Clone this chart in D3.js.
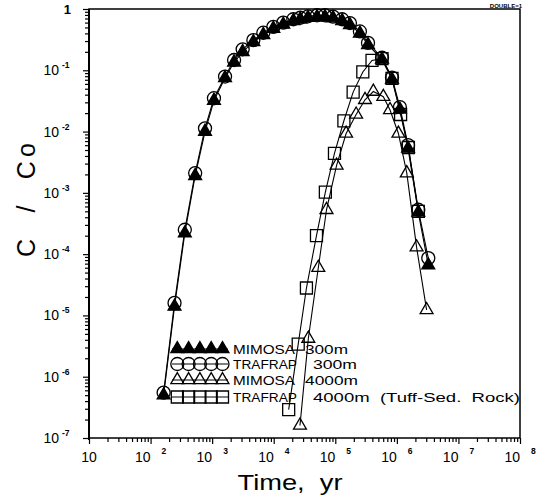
<!DOCTYPE html>
<html><head><meta charset="utf-8">
<script src="https://cdn.jsdelivr.net/npm/d3@7"></script>
<style>body{margin:0;background:#fff}svg{display:block}</style>
</head><body><svg id="c" width="540" height="495"></svg>
<script>
// ---- data ----
const time300 = [163, 245, 360, 530, 766, 1070, 1620, 2270, 3130, 4670, 6780, 9860, 14300, 20800, 27000, 36000, 50500, 68000, 92000, 129000, 173000, 251000, 340000, 574000, 834000, 1120000, 1520000, 2230000, 3240000];
const mimosa300 = [5.0e-7, 1.4e-5, 2.2e-4, 1.9e-3, 1.0e-2, 3.2e-2, 7.5e-2, 0.135, 0.20, 0.29, 0.38, 0.48, 0.56, 0.64, 0.68, 0.72, 0.74, 0.74, 0.71, 0.64, 0.55, 0.40, 0.26, 0.15, 0.071, 0.023, 5.3e-3, 4.8e-4, 6.6e-5];
const trafrap300 = [5.5e-7, 1.6e-5, 2.5e-4, 2.1e-3, 1.13e-2, 3.5e-2, 7.9e-2, 0.147, 0.22, 0.31, 0.41, 0.51, 0.60, 0.68, 0.72, 0.76, 0.79, 0.79, 0.75, 0.68, 0.59, 0.43, 0.28, 0.16, 0.076, 0.025, 6.0e-3, 5.3e-4, 8.6e-5];
const timeMimosa4000 = [26700, 36500, 53000, 72000, 105000, 150000, 218000, 304000, 415000, 603000, 775000, 1060000, 1450000, 2090000, 3040000];
const mimosa4000 = [1.6e-7, 4.2e-6, 6.0e-5, 5.3e-4, 2.8e-3, 9.3e-3, 0.019, 0.033, 0.045, 0.037, 0.0225, 9.3e-3, 2.1e-3, 1.3e-4, 1.23e-5];
const timeTrafrap4000 = [17500, 25000, 34000, 49500, 69000, 97000, 138000, 195000, 280000, 395000, 574000, 834000, 1150000, 1540000, 2230000];
const trafrap4000 = [2.9e-7, 3.4e-6, 2.8e-5, 2.0e-4, 1.03e-3, 4.4e-3, 0.015, 0.044, 0.094, 0.145, 0.155, 0.074, 0.019, 5.5e-3, 5.0e-4];
const xTickExps = [1, 2, 3, 4, 5, 6, 7, 8];
const yTickExps = [0, -1, -2, -3, -4, -5, -6, -7];
const legendNames = ["MIMOSA", "TRAFRAP", "MIMOSA", "TRAFRAP"];
const legendSuffix = ["300m", "300m", "4000m", "4000m  (Tuff-Sed.  Rock)"];

// ---- layout ----
const L = 89, R = 520, T = 9, B = 438;
const svg = d3.select("#c");
const x = d3.scaleLog().domain([10, 1e8]).range([L, R]);
const y = d3.scaleLog().domain([1e-7, 1]).range([B, T]);
const font = "'Liberation Sans', Arial, sans-serif";

// tick values
const majX = xTickExps.map(e => Math.pow(10, e));
const minX = [];
for (let e = 1; e < 8; e++) for (let m = 2; m <= 9; m++) minX.push(m * Math.pow(10, e));
const majY = yTickExps.map(e => Math.pow(10, e));
const minY = [];
for (let e = -7; e < 0; e++) for (let m = 2; m <= 9; m++) minY.push(m * Math.pow(10, e));

function styleAxis(g) {
  g.select(".domain").remove();
  g.selectAll("line").attr("stroke", "#000").attr("stroke-width", 1.2);
}
svg.append("g").attr("transform", `translate(0,${B})`)
  .call(d3.axisBottom(x).tickValues(minX).tickSize(4).tickFormat("")).call(styleAxis);
svg.append("g").attr("transform", `translate(0,${B})`)
  .call(d3.axisBottom(x).tickValues(majX).tickSize(6).tickFormat("")).call(styleAxis);
svg.append("g").attr("transform", `translate(${L},0)`)
  .call(d3.axisLeft(y).tickValues(minY).tickSize(4).tickFormat("")).call(styleAxis);
svg.append("g").attr("transform", `translate(${L},0)`)
  .call(d3.axisLeft(y).tickValues(majY).tickSize(6).tickFormat("")).call(styleAxis);

// frame
svg.append("rect").attr("x", L).attr("y", T).attr("width", R - L).attr("height", B - T)
  .attr("fill", "none").attr("stroke", "#000").attr("stroke-width", 1.5);
svg.append("line").attr("x1", L).attr("x2", L).attr("y1", T).attr("y2", B + 2)
  .attr("stroke", "#000").attr("stroke-width", 2);

// y tick labels
yTickExps.forEach(e => {
  const yy = y(Math.pow(10, e));
  if (e === 0) {
    svg.append("text").attr("x", 71).attr("y", yy + 4.5).attr("text-anchor", "end")
      .attr("font-family", font).attr("font-size", 13).attr("font-weight", "bold").text("1");
  } else {
    svg.append("text").attr("x", 59).attr("y", yy + 5).attr("text-anchor", "end")
      .attr("font-family", font).attr("font-size", 14).text("10");
    svg.append("text").attr("x", 62).attr("y", yy - 2).attr("text-anchor", "start")
      .attr("font-family", font).attr("font-size", 8.5).attr("font-weight", "bold").text(String(e));
  }
});
// x tick labels
xTickExps.forEach(e => {
  const xx = x(Math.pow(10, e));
  if (e === 1) {
    svg.append("text").attr("x", xx).attr("y", 462).attr("text-anchor", "middle")
      .attr("font-family", font).attr("font-size", 14).text("10");
  } else {
    svg.append("text").attr("x", xx).attr("y", 462).attr("text-anchor", "end")
      .attr("font-family", font).attr("font-size", 14).text("10");
    svg.append("text").attr("x", xx + 11).attr("y", 454).attr("text-anchor", "start")
      .attr("font-family", font).attr("font-size", 8.5).attr("font-weight", "bold").text(String(e));
  }
});

// titles
svg.append("text").attr("transform", "translate(35,200) rotate(-90)")
  .attr("text-anchor", "middle").attr("font-family", font).attr("font-size", 25)
  .attr("textLength", 114).attr("lengthAdjust", "spacing")
  .style("white-space", "pre").text("C  /  Co");
svg.append("text").attr("x", 290).attr("y", 490).attr("text-anchor", "middle")
  .attr("font-family", font).attr("font-size", 22)
  .attr("textLength", 105).attr("lengthAdjust", "spacingAndGlyphs")
  .style("white-space", "pre").text("Time,  yr");
svg.append("text").attr("x", 522).attr("y", 8).attr("text-anchor", "end")
  .attr("font-family", font).attr("font-size", 6).attr("font-weight", "bold").text("DOUBLE=1");

// series
const series = [
  {t: time300, v: trafrap300, sym: d3.symbolCircle, size: 133, fill: "none"},
  {t: time300, v: mimosa300, sym: d3.symbolTriangle, size: 72, fill: "#000"},
  {t: timeTrafrap4000, v: trafrap4000, sym: d3.symbolSquare, size: 144, fill: "none"},
  {t: timeMimosa4000, v: mimosa4000, sym: d3.symbolTriangle, size: 72, fill: "none"}
];
const line = d3.line().x(d => x(d[0])).y(d => y(d[1]));
series.forEach(s => {
  const pts = s.t.map((t, i) => [t, s.v[i]]);
  svg.append("path").attr("d", line(pts)).attr("fill", "none").attr("stroke", "#000").attr("stroke-width", 1.1);
});
series.forEach(s => {
  const pts = s.t.map((t, i) => [t, s.v[i]]);
  svg.append("g").selectAll("path").data(pts).join("path")
    .attr("transform", d => `translate(${x(d[0])},${y(d[1])})`)
    .attr("d", d3.symbol(s.sym, s.size)())
    .attr("fill", s.fill).attr("stroke", "#000").attr("stroke-width", 1.3);
});

// legend
const legSyms = [series[1], series[0], series[3], series[2]];
const rowY = [349, 364, 380, 397];
legSyms.forEach((s, i) => {
  const yy = rowY[i];
  svg.append("line").attr("x1", 172).attr("x2", 228).attr("y1", yy).attr("y2", yy)
    .attr("stroke", "#000").attr("stroke-width", 1.1);
  for (let k = 0; k < 5; k++) {
    svg.append("path").attr("transform", `translate(${177.3 + k * 11.3},${yy})`)
      .attr("d", d3.symbol(s.sym, s.size)())
      .attr("fill", s.fill).attr("stroke", "#000").attr("stroke-width", 1.3);
  }
  svg.append("text").attr("x", 233).attr("y", yy + 5).attr("font-family", font).attr("font-size", 13)
    .attr("textLength", i % 2 === 0 ? 62 : 64).attr("lengthAdjust", "spacingAndGlyphs").text(legendNames[i]);
  const sx = (i % 2 === 0) ? 305 : 313;
  const sw = [43, 44, 53, 207][i];
  svg.append("text").attr("x", sx).attr("y", yy + 5).attr("font-family", font).attr("font-size", 13)
    .attr("textLength", sw).attr("lengthAdjust", "spacingAndGlyphs").style("white-space", "pre").text(legendSuffix[i]);
});
</script></body></html>
